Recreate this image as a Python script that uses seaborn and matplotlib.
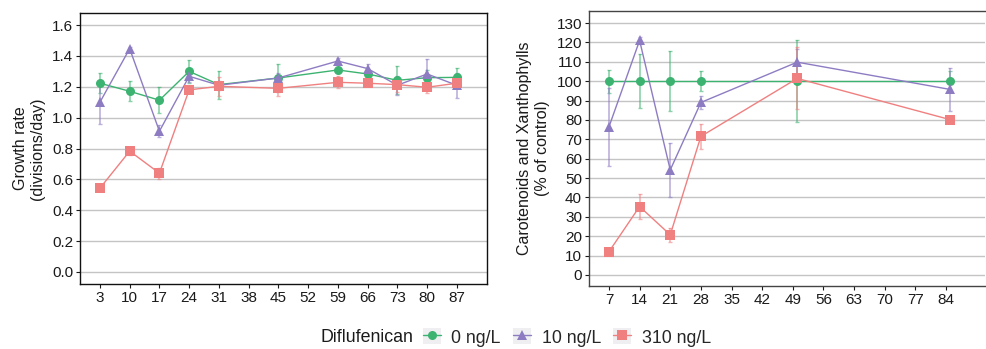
import matplotlib
matplotlib.use("Agg")
import matplotlib.pyplot as plt
import seaborn as sns
import pandas as pd
from matplotlib.lines import Line2D
from matplotlib.patches import Rectangle
from matplotlib.legend_handler import HandlerTuple

# growth rate panel
days_gr = [3, 10, 17, 24, 31, 45, 59, 66, 73, 80, 87]
gr_0 = [1.223, 1.171, 1.113, 1.300, 1.214, 1.257, 1.309, 1.283, 1.242, 1.259, 1.261]
gr_0_err = [0.065, 0.065, 0.085, 0.075, 0.09, 0.09, 0.02, 0.03, 0.09, 0.05, 0.06]
gr_10 = [1.10, 1.447, 0.912, 1.268, 1.21, 1.257, 1.367, 1.318, 1.21, 1.283, 1.21]
gr_10_err = [0.14, 0.01, 0.04, 0.04, 0.03, 0.03, 0.02, 0.03, 0.06, 0.10, 0.08]
gr_310 = [0.543, 0.783, 0.640, 1.180, 1.203, 1.190, 1.229, 1.223, 1.214, 1.197, 1.223]
gr_310_err = [0.02, 0.025, 0.035, 0.01, 0.06, 0.05, 0.04, 0.01, 0.05, 0.04, 0.03]
ticks_gr = [3, 10, 17, 24, 31, 38, 45, 52, 59, 66, 73, 80, 87]

# carotenoids panel
days_car = [7, 14, 21, 28, 50, 85]
car_0 = [100, 100, 100, 100, 100, 100]
car_0_err = [6, 14, 15.5, 5, 21, 5]
car_10 = [76.4, 121.0, 54.2, 89.0, 109.8, 95.7]
car_10_err = [20, 2, 14, 3.5, 7, 11]
car_310 = [12.0, 35.3, 20.7, 71.5, 101.4, 80.1]
car_310_err = [1.5, 6.4, 3.5, 6.6, 16, 1.5]
ticks_car = [7, 14, 21, 28, 35, 42, 49, 56, 63, 70, 77, 84]

groups = ["0 ng/L", "10 ng/L", "310 ng/L"]
colors = {"0 ng/L": "#3CB371", "10 ng/L": "#8E7CC3", "310 ng/L": "#F08080"}
markers = {"0 ng/L": "o", "10 ng/L": "^", "310 ng/L": "s"}


def to_frame(days, vals, errs):
    rows = []
    for g, v, e in zip(groups, vals, errs):
        for d, y, s in zip(days, v, e):
            rows.append({"day": d, "value": y, "err": s, "Diflufenican": g})
    return pd.DataFrame(rows)


df_gr = to_frame(days_gr, [gr_0, gr_10, gr_310], [gr_0_err, gr_10_err, gr_310_err])
df_car = to_frame(days_car, [car_0, car_10, car_310], [car_0_err, car_10_err, car_310_err])

sns.set_theme(style="white")
plt.rcParams["font.family"] = ["Liberation Sans", "DejaVu Sans"]

fig = plt.figure(figsize=(9.86, 3.49), dpi=100)
ax1 = fig.add_axes([0.0811, 0.1862, 0.4128, 0.7765])
ax2 = fig.add_axes([0.5974, 0.1805, 0.4016, 0.788])


def draw(ax, df):
    for g in groups:
        sub = df[df["Diflufenican"] == g]
        ax.errorbar(sub["day"], sub["value"], yerr=sub["err"], fmt="none",
                    ecolor=colors[g], alpha=0.6, elinewidth=1.2, capsize=1.5,
                    capthick=1, zorder=3)
    sns.lineplot(data=df, x="day", y="value", hue="Diflufenican",
                 style="Diflufenican", hue_order=groups, style_order=groups,
                 palette=colors, markers=markers, dashes=False, lw=1,
                 markersize=6.5, markeredgewidth=0, ax=ax, legend=False,
                 zorder=4)
    ax.grid(axis="y", color="#c4c4c4", lw=1)
    ax.set_axisbelow(True)
    ax.tick_params(axis="both", labelsize=11, length=3, width=0.8,
                   colors="#1a1a1a", pad=2)
    ax.tick_params(axis="x", bottom=True)
    ax.tick_params(axis="y", left=True)
    ax.set_xlabel("")


draw(ax1, df_gr)
ax1.set_xticks(ticks_gr)
ax1.set_xlim(-1.7, 94.1)
ax1.set_ylim(-0.078, 1.678)
ax1.set_yticks([0.0, 0.2, 0.4, 0.6, 0.8, 1.0, 1.2, 1.4, 1.6])
ax1.set_yticklabels([f"{v:.1f}" for v in ax1.get_yticks()])
ax1.set_ylabel("Growth rate\n(divisions/day)", fontsize=11.5, labelpad=5,
               color="#1a1a1a")
for s in ax1.spines.values():
    s.set_color("#111111")
    s.set_linewidth(1)

draw(ax2, df_car)
ax2.set_xticks(ticks_car)
ax2.set_xlim(2.45, 92.9)
ax2.set_ylim(-5.7, 136.2)
ax2.set_yticks(range(0, 131, 10))
ax2.set_ylabel("Carotenoids and Xanthophylls\n(% of control)", fontsize=11.5,
               labelpad=5, color="#1a1a1a")
for s in ax2.spines.values():
    s.set_color("#444444")
    s.set_linewidth(1)
ax2.spines["right"].set_visible(False)

handles = []
for g in groups:
    box = Rectangle((0, 0), 1, 1, facecolor="#EFEFF2", edgecolor="none")
    line = Line2D([0], [0], color=colors[g], marker=markers[g], lw=1,
                  markersize=6.5, markeredgewidth=0)
    handles.append((box, line))

fig.text(0.325, 0.033, "Diflufenican", fontsize=12.8, va="center", ha="left",
         color="#1a1a1a")
fig.legend(handles, groups, loc="center left", bbox_to_anchor=(0.429, 0.033),
           ncol=3, frameon=False, fontsize=12.8, handlelength=1.0,
           handleheight=1.0, handletextpad=0.6, columnspacing=0.7,
           borderpad=0, borderaxespad=0,
           handler_map={tuple: HandlerTuple(ndivide=1, pad=0)})

fig.savefig("out.png", dpi=100)
